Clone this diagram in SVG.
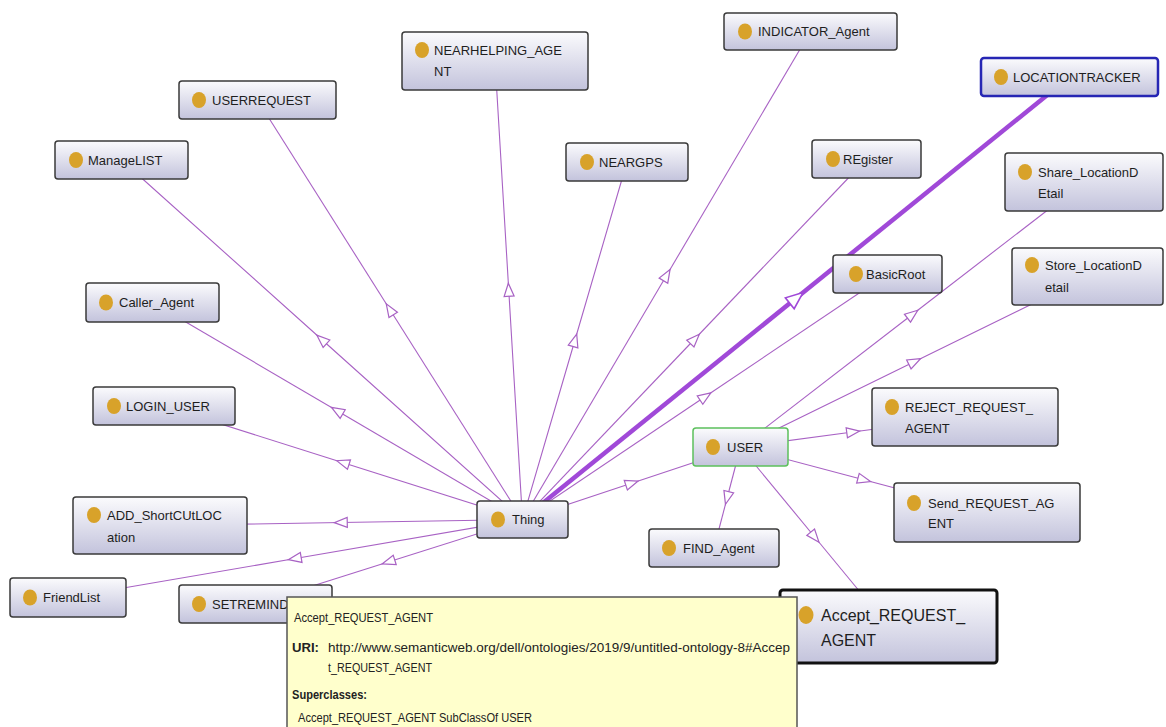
<svg xmlns="http://www.w3.org/2000/svg" width="1166" height="727" viewBox="0 0 1166 727">
<style>
.bg{fill:#ffffff}
.e{stroke:#a862c4;stroke-width:1.1;fill:none;marker-mid:url(#arr)}
.et{stroke:#a049d8;stroke-width:4.5;fill:none;marker-mid:url(#arrT)}
.n rect{fill:url(#ng);stroke:#3a3a3a;stroke-width:1.5}
.dot{fill:#d8a22a}
.t{font-family:"Liberation Sans",Arial,sans-serif;font-size:13px;fill:#1e1e1e}
.tb{font-family:"Liberation Sans",Arial,sans-serif;font-size:16px;fill:#1e1e1e}
.tip{font-family:"Liberation Sans",Arial,sans-serif;font-size:12.5px;fill:#222}
.tipb{font-family:"Liberation Sans",Arial,sans-serif;font-size:12.5px;font-weight:bold;fill:#222}
</style>
<defs>
<linearGradient id="ng" x1="0" y1="0" x2="0" y2="1">
<stop offset="0" stop-color="#fbfbfd"/>
<stop offset="1" stop-color="#c3c3dc"/>
</linearGradient>
<marker id="arr" markerUnits="userSpaceOnUse" markerWidth="18" markerHeight="14" viewBox="-9 -7 18 14" refX="0" refY="0" orient="auto" overflow="visible">
<path d="M7,0 L-6,-5 L-6,5 Z" fill="#ffffff" stroke="#a862c4" stroke-width="1.2"/>
</marker>
<marker id="arrT" markerUnits="userSpaceOnUse" markerWidth="24" markerHeight="18" viewBox="-12 -9 24 18" refX="0" refY="0" orient="auto" overflow="visible">
<path d="M9,0 L-8,-7 L-8,7 Z" fill="#ffffff" stroke="#a049d8" stroke-width="1.6"/>
</marker>
</defs>
<rect class="bg" x="0" y="0" width="1166" height="727"/>
<g id="connectors">
<path class="e" d="M522.5,519.5 L322,339.75 L121.5,160"/>
<path class="e" d="M522.5,519.5 L390,309.75 L257.5,100"/>
<path class="e" d="M522.5,519.5 L508.75,290.25 L495,61"/>
<path class="e" d="M522.5,519.5 L574.75,340.75 L627,162"/>
<path class="e" d="M522.5,519.5 L666.5,275.5 L810.5,31.5"/>
<path class="e" d="M522.5,519.5 L694.5,339.25 L866.5,159"/>
<path class="et" d="M522.5,519.5 L796,298.25 L1069.5,77"/>
<path class="e" d="M522.5,519.5 L705,396.75 L887.5,274"/>
<path class="e" d="M522.5,519.5 L337.5,411 L152.5,302.5"/>
<path class="e" d="M522.5,519.5 L343.25,462.75 L164,406"/>
<path class="e" d="M522.5,519.5 L341.25,522.5 L160,525.5"/>
<path class="e" d="M522.5,519.5 L295.25,558.5 L68,597.5"/>
<path class="e" d="M522.5,519.5 L389,561.75 L255.5,604"/>
<path class="e" d="M522.5,519.5 L631.5,483.25 L740.5,447"/>
<path class="e" d="M740.5,447 L912.25,314.5 L1084,182"/>
<path class="e" d="M740.5,447 L914.25,361.75 L1088,276.5"/>
<path class="e" d="M740.5,447 L852.75,432 L965,417"/>
<path class="e" d="M740.5,447 L863.75,479.75 L987,512.5"/>
<path class="e" d="M740.5,447 L727.25,497.5 L714,548"/>
<path class="e" d="M740.5,447 L814.5,536.75 L888.5,626.5"/>
</g>
<g id="ManageLIST" class="n"><rect x="55" y="141" width="133" height="38" rx="3"/><ellipse class="dot" cx="76" cy="160" rx="7" ry="8"/><text class="t" x="88" y="164.5">ManageLIST</text></g>
<g id="USERREQUEST" class="n"><rect x="179" y="81" width="157" height="38" rx="3"/><ellipse class="dot" cx="199" cy="100" rx="7" ry="8"/><text class="t" x="212" y="104.5">USERREQUEST</text></g>
<g id="NEARHELPING_AGENT" class="n"><rect x="402" y="32" width="186" height="58" rx="3"/><ellipse class="dot" cx="422" cy="50" rx="7" ry="8"/><text class="t" x="434" y="54.5">NEARHELPING_AGE</text><text class="t" x="434" y="76">NT</text></g>
<g id="NEARGPS" class="n"><rect x="566" y="143" width="122" height="38" rx="3"/><ellipse class="dot" cx="587" cy="162" rx="7" ry="8"/><text class="t" x="599" y="166.5">NEARGPS</text></g>
<g id="INDICATOR_Agent" class="n"><rect x="724" y="13" width="173" height="37" rx="3"/><ellipse class="dot" cx="745" cy="31.5" rx="7" ry="8"/><text class="t" x="758" y="36">INDICATOR_Agent</text></g>
<g id="LOCATIONTRACKER" class="n"><rect x="981" y="58" width="177" height="38" rx="3" style="stroke:#2626b4;stroke-width:2.5"/><ellipse class="dot" cx="1001" cy="77" rx="7" ry="8"/><text class="t" x="1013" y="81.5">LOCATIONTRACKER</text></g>
<g id="REgister" class="n"><rect x="812" y="140" width="109" height="38" rx="3"/><ellipse class="dot" cx="833" cy="159" rx="7" ry="8"/><text class="t" x="843" y="163.5">REgister</text></g>
<g id="Share_LocationDEtail" class="n"><rect x="1005" y="153" width="158" height="58" rx="3"/><ellipse class="dot" cx="1025" cy="172" rx="7" ry="8"/><text class="t" x="1038" y="176.5">Share_LocationD</text><text class="t" x="1038" y="198">Etail</text></g>
<g id="BasicRoot" class="n"><rect x="833" y="255" width="109" height="38" rx="3"/><ellipse class="dot" cx="856" cy="274" rx="7" ry="8"/><text class="t" x="866" y="278.5">BasicRoot</text></g>
<g id="Store_LocationDetail" class="n"><rect x="1012" y="248" width="151" height="57" rx="3"/><ellipse class="dot" cx="1032" cy="265" rx="7" ry="8"/><text class="t" x="1045" y="269.5">Store_LocationD</text><text class="t" x="1045" y="291.5">etail</text></g>
<g id="Caller_Agent" class="n"><rect x="86" y="283" width="133" height="39" rx="3"/><ellipse class="dot" cx="106" cy="302.5" rx="7" ry="8"/><text class="t" x="119" y="307">Caller_Agent</text></g>
<g id="LOGIN_USER" class="n"><rect x="93" y="387" width="142" height="38" rx="3"/><ellipse class="dot" cx="114" cy="406" rx="7" ry="8"/><text class="t" x="126" y="410.5">LOGIN_USER</text></g>
<g id="ADD_ShortCUtLOCation" class="n"><rect x="73" y="497" width="174" height="57" rx="3"/><ellipse class="dot" cx="94" cy="515" rx="7" ry="8"/><text class="t" x="107" y="519.5">ADD_ShortCUtLOC</text><text class="t" x="107" y="541.5">ation</text></g>
<g id="FriendList" class="n"><rect x="10" y="578" width="116" height="39" rx="3"/><ellipse class="dot" cx="30" cy="597.5" rx="7" ry="8"/><text class="t" x="43" y="602">FriendList</text></g>
<g id="SETREMINDER" class="n"><rect x="179" y="585" width="153" height="38" rx="3"/><ellipse class="dot" cx="199" cy="604" rx="7" ry="8"/><text class="t" x="212" y="608.5">SETREMINDER</text></g>
<g id="Thing" class="n"><rect x="477" y="501" width="91" height="37" rx="3"/><ellipse class="dot" cx="498" cy="519.5" rx="7" ry="8"/><text class="t" x="512" y="524">Thing</text></g>
<g id="USER" class="n"><rect x="693" y="428" width="95" height="38" rx="3" style="stroke:#5cc05c"/><ellipse class="dot" cx="713" cy="447" rx="7" ry="8"/><text class="t" x="727" y="451.5">USER</text></g>
<g id="FIND_Agent" class="n"><rect x="649" y="529" width="130" height="38" rx="3"/><ellipse class="dot" cx="669" cy="548" rx="7" ry="8"/><text class="t" x="683" y="552.5">FIND_Agent</text></g>
<g id="REJECT_REQUEST_AGENT" class="n"><rect x="872" y="388" width="186" height="58" rx="3"/><ellipse class="dot" cx="892" cy="407" rx="7" ry="8"/><text class="t" x="905" y="411.5">REJECT_REQUEST_</text><text class="t" x="905" y="433">AGENT</text></g>
<g id="Send_REQUEST_AGENT" class="n"><rect x="894" y="483" width="186" height="59" rx="3"/><ellipse class="dot" cx="914" cy="503" rx="7" ry="8"/><text class="t" x="928" y="507.5">Send_REQUEST_AG</text><text class="t" x="928" y="528">ENT</text></g>
<g id="Accept_REQUEST_AGENT" class="n"><rect x="780" y="590" width="217" height="73" rx="3" style="stroke:#111;stroke-width:3"/><ellipse class="dot" cx="806" cy="615" rx="7.5" ry="9"/><text class="tb" x="821" y="621">Accept_REQUEST_</text><text class="tb" x="821" y="646">AGENT</text></g>
<g id="tooltip">
<rect x="287" y="597" width="510" height="140" fill="#ffffcc" stroke="#555" stroke-width="1.5"/>
<text class="tip" x="294" y="622" textLength="139" lengthAdjust="spacingAndGlyphs">Accept_REQUEST_AGENT</text>
<text class="tipb" x="292" y="652" textLength="27" lengthAdjust="spacingAndGlyphs">URI:</text>
<text class="tip" x="328" y="652" textLength="462" lengthAdjust="spacingAndGlyphs">http://www.semanticweb.org/dell/ontologies/2019/9/untitled-ontology-8#Accep</text>
<text class="tip" x="328" y="672" textLength="104" lengthAdjust="spacingAndGlyphs">t_REQUEST_AGENT</text>
<text class="tipb" x="292" y="699" textLength="75" lengthAdjust="spacingAndGlyphs">Superclasses:</text>
<text class="tip" x="298" y="722" textLength="234" lengthAdjust="spacingAndGlyphs">Accept_REQUEST_AGENT SubClassOf USER</text>
</g>
</svg>
